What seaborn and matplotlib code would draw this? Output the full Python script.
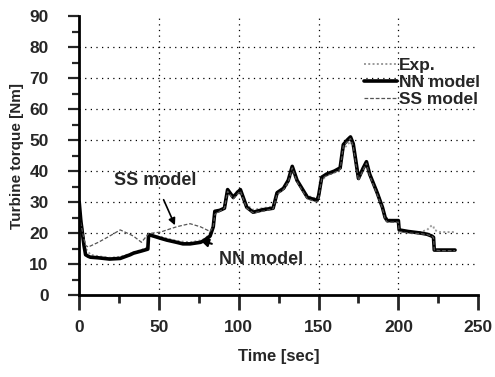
import numpy as np
import pandas as pd
import matplotlib
matplotlib.use("Agg")
import matplotlib.pyplot as plt
import seaborn as sns

time = [0, 1, 3, 4, 5.6, 7, 12, 19, 25.7, 32, 34, 39, 43, 43.5, 51, 55, 61, 65, 69.5, 76, 78, 82, 84, 85,
        88, 91, 93, 96.5, 99, 101, 105, 109, 115, 121.5, 124, 128, 131, 133.5, 136.5, 143, 149, 150, 152,
        155, 160, 163.5, 165.5, 168, 170, 171.7, 175, 178, 180, 182, 186.7, 190, 191.7, 193, 200, 200.5,
        206, 213.7, 218, 221, 222, 222.5, 226, 235.5]

nn_model = [30, 24, 16, 13, 12.5, 12.2, 12, 11.6, 11.8, 13, 13.5, 14.2, 14.8, 19.5, 18.3, 17.7, 17, 16.5,
            16.5, 17, 17.5, 19, 22, 27, 27.3, 28, 34, 31.5, 33, 34, 28.3, 26.7, 27.5, 28, 33, 34.4, 37,
            41.5, 37, 31.5, 30.5, 32, 38, 39, 40, 41, 48.5, 50, 51, 48.8, 37.6, 41, 43, 39, 33, 28.3, 25,
            24, 24, 21, 20.5, 20, 19.6, 19, 18.6, 14.5, 14.5, 14.5]

exp_data = [27, 25, 18, 15, 14, 13, 12.5, 12, 12.3, 13.3, 13.8, 14.5, 15.5, 19, 18.8, 18.2, 17.5, 17.2,
            17, 17.6, 18, 19.5, 22.5, 26.5, 27, 28.5, 33, 32, 33.5, 33, 29, 27.5, 28, 28.5, 32.5, 34, 36,
            40, 36.5, 32, 31, 31.5, 37, 38.5, 39.5, 40.5, 47, 48.5, 49.5, 47.5, 38, 40, 42, 38.5, 33.5,
            28.5, 25.5, 24.5, 23.5, 20.5, 20.3, 20.3, 21, 22.5, 22, 21, 20.3, 20.3]

ss_model = [27, 23, 18, 16, 15.5, 15.8, 17, 19, 21, 19.5, 19, 17, 19.5, 19.8, 20.3, 21, 22, 22.5, 23, 22,
            21.5, 20.5, 22, 26, 27, 28, 33.5, 31, 32.5, 33.5, 28, 26.5, 27, 27.8, 32.5, 34, 36.5, 41,
            36.5, 31, 30, 31.5, 37.5, 38.5, 39.5, 40.5, 48, 49.5, 50.5, 48, 37, 40.5, 42.5, 38.5, 32.5,
            28, 24.5, 23.5, 23.5, 20.5, 20, 19.8, 19.5, 19, 18.5, 14.5, 14.3, 14.3]

x_ticks = [0, 50, 100, 150, 200, 250]
y_ticks = [0, 10, 20, 30, 40, 50, 60, 70, 80, 90]

sns.set_style("ticks")
plt.rcParams['font.family'] = ['Liberation Sans', 'DejaVu Sans']
plt.rcParams['font.weight'] = 'bold'

fig = plt.figure(figsize=(4.95, 3.77), dpi=100)
ax = fig.add_axes([0.16, 0.2175, 0.806, 0.74])

df = pd.DataFrame({"time": time, "exp": exp_data, "nn": nn_model, "ss": ss_model})

sns.lineplot(data=df, x="time", y="exp", ax=ax, color="#9a9a9a", linestyle=(0, (1, 1.2)),
             linewidth=1.4, label="Exp.", sort=False, estimator=None)
sns.lineplot(data=df, x="time", y="nn", ax=ax, color="black", linewidth=2.6,
             label="NN model", sort=False, estimator=None)
sns.lineplot(data=df, x="time", y="ss", ax=ax, color="#555555", linestyle=(0, (3, 1.5)),
             linewidth=0.9, label="SS model", sort=False, estimator=None)

ax.set_xlim(0, 250)
ax.set_ylim(0, 90)
ax.set_xticks(x_ticks)
ax.set_yticks(y_ticks)
ax.set_xticks(np.arange(0, 251, 25), minor=True)
ax.set_yticks(np.arange(0, 91, 5), minor=True)
ax.set_xticklabels([str(v) for v in x_ticks], fontsize=12.5, fontweight='bold')
ax.set_yticklabels([str(v) for v in y_ticks], fontsize=12.5, fontweight='bold')

ax.tick_params(axis='x', which='major', direction='out', length=11, width=2, pad=7)
ax.tick_params(axis='x', which='minor', direction='out', length=6, width=2)
ax.tick_params(axis='y', which='major', direction='out', length=8, width=1.6, pad=14)
ax.tick_params(axis='y', which='minor', direction='out', length=5, width=1.6)

for s in ['top', 'right']:
    ax.spines[s].set_visible(False)
for s in ['left', 'bottom']:
    ax.spines[s].set_linewidth(2)
    ax.spines[s].set_color('black')

ax.grid(True, which='major', linestyle=(0, (1, 3.5)), color='black', linewidth=0.9)
ax.xaxis.get_gridlines()[-1].set_visible(False)
ax.xaxis.get_gridlines()[0].set_visible(False)
ax.yaxis.get_gridlines()[-1].set_visible(False)
ax.yaxis.get_gridlines()[0].set_visible(False)

ax.set_xlabel("Time [sec]", fontsize=12, fontweight='bold', labelpad=10)
ax.set_ylabel("Turbine torque [Nm]", fontsize=11, fontweight='bold', labelpad=4)

ax.annotate("SS model", xy=(60, 22.5), xytext=(47.5, 37), fontsize=13, fontweight='bold',
            ha='center', va='center',
            arrowprops=dict(arrowstyle='-|>', color='black', lw=1.2, shrinkA=6, shrinkB=0,
                            mutation_scale=10))
ax.annotate("NN model", xy=(75.8, 17.7), xytext=(114, 11.5), fontsize=13, fontweight='bold',
            ha='center', va='center',
            arrowprops=dict(arrowstyle='-|>', color='black', lw=1.5, shrinkA=9, shrinkB=0,
                            mutation_scale=12))

leg = ax.legend(loc='upper left', bbox_to_anchor=(0.715, 0.85), frameon=False, fontsize=12.5,
                handlelength=1.9, handletextpad=0.1, labelspacing=0.12, borderpad=0, borderaxespad=0)
for t in leg.get_texts():
    t.set_fontweight('bold')

fig.savefig("out.png", dpi=100)
